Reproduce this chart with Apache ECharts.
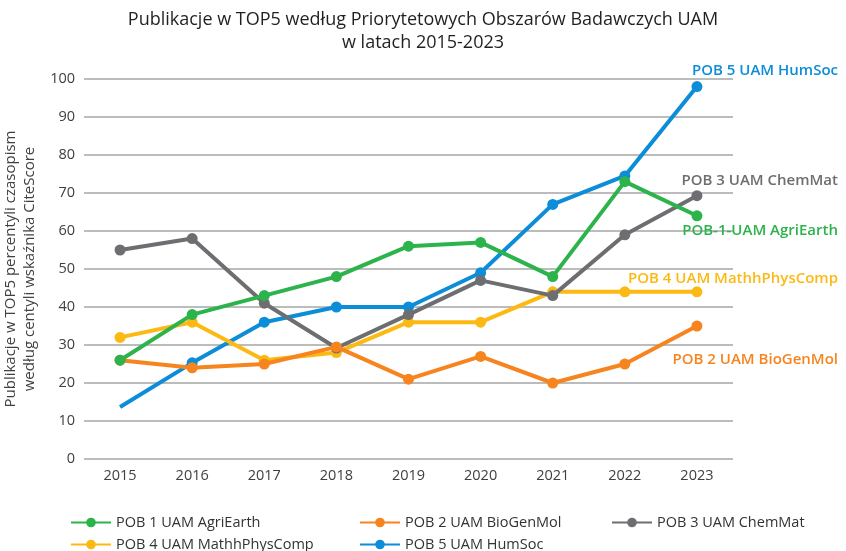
<!DOCTYPE html>
<html>
<head>
<meta charset="utf-8">
<script src="https://cdn.jsdelivr.net/npm/echarts@6/dist/echarts.min.js"></script>
<style>
  html, body { margin: 0; padding: 0; background: #fff; }
  #chart { width: 846px; height: 551px; }
</style>
</head>
<body>
<div id="chart"></div>
<script>
var years = ['2015', '2016', '2017', '2018', '2019', '2020', '2021', '2022', '2023'];

var agriEarth = [26, 38, 43, 48, 56, 57, 48, 73, 64];
var bioGenMol = [26, 24, 25, 29.5, 21, 27, 20, 25, 35];
var chemMat   = [55, 58, 41, 29.2, 38, 47, 43, 59, 69.3];
var mathPhys  = [32, 36, 26, 28, 36, 36, 44, 44, 44];
var humSoc    = [13.7, 25.3, 36, 40, 40, 49, 67, 74.5, 98];

var names = ['POB 1 UAM AgriEarth', 'POB 2 UAM BioGenMol', 'POB 3 UAM ChemMat', 'POB 4 UAM MathhPhysComp', 'POB 5 UAM HumSoc'];
var endNames = ['POB-1-UAM AgriEarth', 'POB 2 UAM BioGenMol', 'POB 3 UAM ChemMat', 'POB 4 UAM MathhPhysComp', 'POB 5 UAM HumSoc'];
var colors = ['#2db34b', '#f6841f', '#6d6e71', '#fdb913', '#0b8dd7'];

var dom = document.getElementById('chart');
var myChart = echarts.init(dom);

// first blue point is drawn without a marker
var humSocData = humSoc.map(function (v, i) {
    return i === 0 ? { value: v, symbol: 'none' } : v;
});

function makeSeries(name, data, color, z) {
    return {
        name: name,
        type: 'line',
        data: data,
        symbol: 'circle',
        symbolSize: 11,
        z: z,
        lineStyle: { width: 4, color: color },
        itemStyle: { color: color },
        emphasis: { disabled: true }
    };
}

// labels at the right end of the lines
var endLabelPos = [231, 360, 181, 279, 71];
var graphics = endNames.map(function (n, i) {
    return {
        type: 'text',
        x: 838,
        y: endLabelPos[i],
        z: i === 0 ? 1 : 100,
        style: {
            text: n,
            align: 'right',
            verticalAlign: 'middle',
            fill: colors[i],
            fontSize: 15,
            fontWeight: 600,
            fontFamily: 'Open Sans'
        }
    };
});

// one legend per item so they sit in the same grid as the original
var legendLeft = [65, 354, 606, 65, 354];
var legendTop  = [510, 510, 510, 532, 532];
var legends = names.map(function (n, i) {
    return {
        left: legendLeft[i],
        top: legendTop[i],
        data: [n],
        itemWidth: 40,
        itemHeight: 12,
        itemGap: 6,
        selectedMode: false,
        textStyle: { fontSize: 14.5, color: '#333', fontFamily: 'Open Sans', padding: [0, 0, 0, 0] }
    };
});

var option = {
    backgroundColor: '#fff',
    animation: false,
    textStyle: { fontFamily: 'Open Sans' },
    title: {
        text: 'Publikacje w TOP5 według Priorytetowych Obszarów Badawczych UAM\nw latach 2015-2023',
        left: 'center',
        top: 3,
        textStyle: { fontSize: 18, fontWeight: 'normal', color: '#231f20', lineHeight: 23, fontFamily: 'Open Sans' }
    },
    legend: legends,
    grid: { left: 84, right: 113, top: 79, bottom: 92, containLabel: false, outerBoundsMode: 'none' },
    xAxis: {
        type: 'category',
        data: years,
        boundaryGap: true,
        axisLine: { show: false },
        axisTick: { show: false },
        axisLabel: { fontSize: 14.5, color: '#404040', margin: 9 }
    },
    yAxis: {
        type: 'value',
        min: 0,
        max: 100,
        interval: 10,
        name: 'Publikacje w TOP5 percentyli czasopism\nwedług centyli wskaźnika CiteScore',
        nameLocation: 'middle',
        nameRotate: 90,
        nameGap: 45,
        nameTextStyle: { fontSize: 15, color: '#404040', lineHeight: 19 },
        axisLine: { show: false },
        axisTick: { show: false },
        axisLabel: { fontSize: 14.5, color: '#404040', margin: 9 },
        splitLine: { lineStyle: { color: '#a6a6a6', width: 1.5 } }
    },
    graphic: graphics,
    series: [
        makeSeries(names[4], humSocData, colors[4], 2),
        makeSeries(names[3], mathPhys, colors[3], 3),
        makeSeries(names[2], chemMat, colors[2], 4),
        makeSeries(names[1], bioGenMol, colors[1], 5),
        makeSeries(names[0], agriEarth, colors[0], 6)
    ]
};

myChart.setOption(option);
</script>
</body>
</html>
